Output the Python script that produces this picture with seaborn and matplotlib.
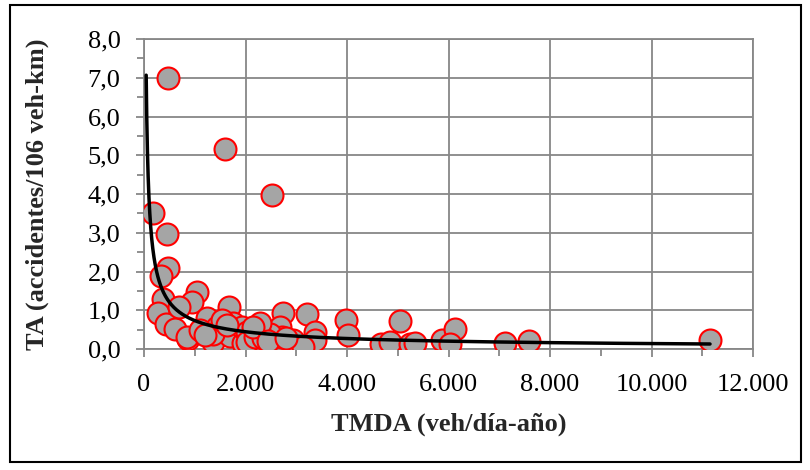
import numpy as np
import pandas as pd
import matplotlib
matplotlib.use("Agg")
import matplotlib.pyplot as plt
from matplotlib.patches import Rectangle
from matplotlib.ticker import MultipleLocator
import seaborn as sns

# ---- data ----
tmda = [479, 1596, 2517, 171, 447, 480, 330, 365, 1050, 955,
        276, 430, 611, 690, 860, 1235, 1670, 1432, 1760, 1365,
        1695, 1957, 2319, 2735, 3206, 3369, 3238, 3977, 4016, 4663,
        4847, 5044, 5241, 5340, 5866, 6128, 6030, 7113, 7592, 11153,
        841, 1103, 1366, 1530, 1924, 2022, 2022, 2187, 3369, 2942,
        2680, 2713, 2483, 2351, 2286, 2154, 3140, 1640, 2450, 2800,
        1200]
ta = [7.00, 5.15, 3.97, 3.50, 2.96, 2.08, 1.88, 1.28, 1.47, 1.22,
      0.94, 0.65, 0.51, 1.09, 0.25, 0.79, 1.08, 0.57, 0.66, 0.19,
      0.34, 0.15, 0.53, 0.93, 0.91, 0.45, 0.10, 0.76, 0.36, 0.13,
      0.19, 0.73, 0.13, 0.15, 0.23, 0.51, 0.13, 0.16, 0.21, 0.23,
      0.32, 0.49, 0.40, 0.75, 0.57, 0.45, 0.19, 0.32, 0.23, 0.23,
      0.57, 0.32, 0.40, 0.28, 0.66, 0.57, 0.06, 0.62, 0.20, 0.28,
      0.35]

# power trendline (Excel style) y = a * x^b
trend_a = 106.0
trend_b = -0.72
trend_x_start = 43
trend_x_end = 11153

x_ticks = [0, 2000, 4000, 6000, 8000, 10000, 12000]
x_tick_labels = ["0", "2.000", "4.000", "6.000", "8.000", "10.000", "12.000"]
y_ticks = [0, 1, 2, 3, 4, 5, 6, 7, 8]
y_tick_labels = ["0,0", "1,0", "2,0", "3,0", "4,0", "5,0", "6,0", "7,0", "8,0"]

x_label = "TMDA (veh/día-año)"
y_label = "TA (accidentes/106 veh-km)"

# ---- plotting ----
sns.set_style("white")
plt.rcParams["font.family"] = ["Liberation Serif", "DejaVu Serif"]

W, H = 810, 470
fig = plt.figure(figsize=(W / 100, H / 100), dpi=100)
ax = fig.add_axes([144 / W, 1 - 349 / H, (753 - 144) / W, (349 - 39) / H])

df = pd.DataFrame({"TMDA": tmda, "TA": ta})
sns.scatterplot(data=df, x="TMDA", y="TA", ax=ax, s=250, color="#A5A5A5",
                edgecolor="#FF0000", linewidth=1.5, zorder=3, legend=False)

xs = np.geomspace(trend_x_start, trend_x_end, 400)
trend = pd.DataFrame({"TMDA": xs, "TA": trend_a * xs ** trend_b})
sns.lineplot(data=trend, x="TMDA", y="TA", ax=ax, color="black",
             linewidth=2.5, zorder=4)

grid_c = "#878787"
ax.set_xlim(0, 12000)
ax.set_ylim(0, 8)
ax.set_xticks(x_ticks)
ax.set_xticklabels(x_tick_labels)
ax.set_yticks(y_ticks)
ax.set_yticklabels(y_tick_labels)
ax.xaxis.set_minor_locator(MultipleLocator(1000))
ax.yaxis.set_minor_locator(MultipleLocator(0.5))
ax.grid(True, which="major", color=grid_c, linewidth=1.3, zorder=0)
ax.set_axisbelow(True)
for sp in ax.spines.values():
    sp.set_color(grid_c)
    sp.set_linewidth(1.3)
ax.tick_params(axis="both", which="major", direction="out", length=6,
               width=1.3, color=grid_c, labelsize=19, labelcolor="black")
ax.tick_params(axis="x", which="major", pad=12)
ax.tick_params(axis="y", which="major", pad=11)
ax.tick_params(axis="both", which="minor", direction="out", length=5,
               width=1.3, color=grid_c)
ax.tick_params(bottom=True, left=True, which="both")

ax.set_xlabel(x_label, fontsize=19, fontweight="bold", labelpad=12)
ax.set_ylabel(y_label, fontsize=19, fontweight="bold", labelpad=28)

# outer chart frame
fig.patches.append(Rectangle((10 / W, 1 - 462 / H), (801 - 10) / W, (462 - 5) / H,
                             transform=fig.transFigure, fill=False,
                             edgecolor="black", linewidth=1.5))

fig.savefig("out.png", dpi=100)
